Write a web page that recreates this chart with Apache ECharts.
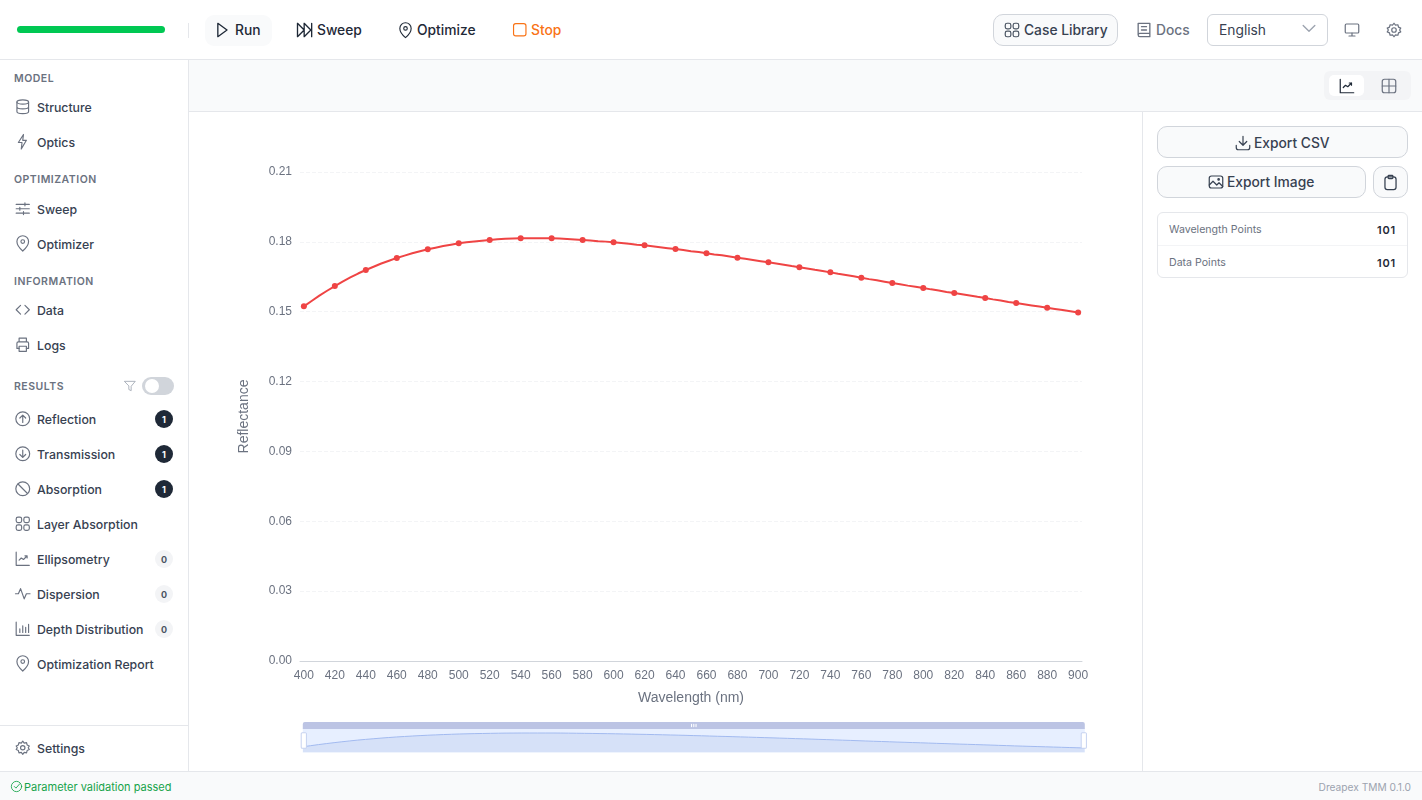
<!DOCTYPE html>
<html>
<head>
<meta charset="utf-8">
<title>Dreapex TMM</title>
<script src="https://cdn.jsdelivr.net/npm/echarts@6/dist/echarts.min.js"></script>
<style>
*{box-sizing:border-box}
html,body{margin:0;padding:0;width:1422px;height:800px;overflow:hidden;background:#fff;font-family:Inter,"Noto Sans",sans-serif;color:#374151}
.a{position:absolute}
.t{position:absolute;white-space:nowrap;line-height:16px;transform:translateY(-50%)}
svg.i{position:absolute;fill:none;stroke:currentColor;stroke-linecap:round;stroke-linejoin:round}
.btn{position:absolute;background:#f9fafb;border:1px solid #d1d5db;border-radius:10px}
.sec{font-size:10.5px;font-weight:600;letter-spacing:.5px;color:#6b7280}
.item{font-size:12.3px;font-weight:500;color:#374151}
.top{font-size:13.8px;font-weight:500;color:#1f2937}
.badge{position:absolute;left:155px;width:18px;height:18px;border-radius:50%;font-size:9px;font-weight:700;display:flex;align-items:center;justify-content:center}
.b1{background:#1f2937;color:#fff}.b0{background:#f3f4f6;color:#4b5563}
#chart{position:absolute;left:189px;top:112px;width:953px;height:659px}
</style>
</head>
<body>
<div class="a" style="left:0;top:59px;width:1422px;height:1px;background:#e5e7eb"></div>
<div class="a" style="left:17px;top:26px;width:148px;height:7px;border-radius:4px;background:#00c853"></div>
<div class="a" style="left:188px;top:23px;width:1px;height:15px;background:#e5e7eb"></div>
<div class="a" style="left:205px;top:15px;width:67px;height:31px;border-radius:9px;background:#f9fafb"></div>
<div class="a" style="left:189px;top:60px;width:1233px;height:52px;background:#f9fafb;border-bottom:1px solid #e5e7eb"></div>
<div class="a" style="left:1324px;top:71px;width:87px;height:29px;border-radius:6px;background:#f3f4f6"></div>
<div class="a" style="left:1329px;top:75px;width:35px;height:21px;border-radius:5px;background:#fff"></div>
<div class="a" style="left:188px;top:60px;width:1px;height:711px;background:#e5e7eb"></div>
<div class="a" style="left:1142px;top:112px;width:1px;height:659px;background:#e5e7eb"></div>
<div class="a" style="left:0;top:725px;width:188px;height:1px;background:#e5e7eb"></div>
<div id="topbar"></div>
<div id="chart"></div>
<div id="side"></div>
<div id="right"></div>
<div class="a" style="left:0;top:771px;width:1422px;height:29px;background:#f9fafb;border-top:1px solid #e5e7eb"></div>
<div id="status"></div>
<script>
// ---------- chart data ----------
var wavelengthLabels = ['400','405','410','415','420','425','430','435','440','445','450','455','460','465','470','475','480','485','490','495','500','505','510','515','520','525','530','535','540','545','550','555','560','565','570','575','580','585','590','595','600','605','610','615','620','625','630','635','640','645','650','655','660','665','670','675','680','685','690','695','700','705','710','715','720','725','730','735','740','745','750','755','760','765','770','775','780','785','790','795','800','805','810','815','820','825','830','835','840','845','850','855','860','865','870','875','880','885','890','895','900'];
var reflectance = [
0.1523,0.1546,0.1569,0.1590,0.1610,0.1629,0.1647,0.1664,0.1679,0.1693,
0.1707,0.1719,0.1731,0.1741,0.1751,0.1760,0.1768,0.1775,0.1782,0.1788,
0.1794,0.1798,0.1802,0.1805,0.1808,0.1811,0.1813,0.1814,0.1815,0.1815,
0.1815,0.1815,0.1815,0.1814,0.1812,0.1810,0.1808,0.1806,0.1803,0.1801,
0.1798,0.1795,0.1792,0.1788,0.1785,0.1781,0.1777,0.1773,0.1769,0.1765,
0.1760,0.1756,0.1751,0.1746,0.1742,0.1737,0.1732,0.1727,0.1722,0.1717,
0.1712,0.1707,0.1702,0.1696,0.1691,0.1686,0.1680,0.1675,0.1669,0.1663,
0.1658,0.1652,0.1646,0.1640,0.1635,0.1629,0.1623,0.1618,0.1612,0.1607,
0.1602,0.1596,0.1591,0.1585,0.1580,0.1575,0.1570,0.1564,0.1559,0.1553,
0.1548,0.1542,0.1537,0.1532,0.1527,0.1522,0.1517,0.1512,0.1507,0.1502,0.1497];
var yTicks = {min:0, max:0.21, interval:0.03};

var chart = echarts.init(document.getElementById('chart'));
chart.setOption({
  animation:false,
  textStyle:{fontFamily:'"Liberation Sans",Arial,sans-serif'},
  grid:{left:111,right:60,top:60,bottom:110},
  xAxis:{type:'category',data:wavelengthLabels,boundaryGap:true,
    name:'Wavelength (nm)',nameLocation:'middle',nameGap:30,
    nameTextStyle:{fontSize:14,color:'#6b7280'},
    axisLine:{lineStyle:{color:'#d1d5db'}},axisTick:{show:false},
    axisLabel:{interval:3,color:'#6b7280',fontSize:12,margin:9},splitLine:{show:false}},
  yAxis:{type:'value',min:yTicks.min,max:yTicks.max,interval:yTicks.interval,
    name:'Reflectance',nameLocation:'middle',nameGap:49,
    nameTextStyle:{fontSize:14,color:'#6b7280'},
    axisLine:{show:false},axisTick:{show:false},
    axisLabel:{color:'#6b7280',fontSize:12,margin:8,lineHeight:15,formatter:function(v){return v.toFixed(2)}},
    splitLine:{lineStyle:{color:'#f3f4f6',type:'dashed'}}},
  dataZoom:[{type:'slider',xAxisIndex:0,start:0,end:100,left:111,right:60,top:610,height:24,
    showDetail:false,brushSelect:true,borderColor:'transparent',
    backgroundColor:'rgba(47,69,84,0)',fillerColor:'rgba(135,175,274,0.2)',
    moveHandleSize:7,moveHandleStyle:{color:'#bcc4e4',opacity:1},
    handleIcon:'path://M1,0H4a1,1,0,0,1,1,1V14a1,1,0,0,1-1,1H1a1,1,0,0,1-1-1V1a1,1,0,0,1,1-1Z',
    handleSize:'65%',handleStyle:{color:'#fff',borderColor:'#c6d2f0'},
    dataBackground:{lineStyle:{color:'#b4c6ee',width:1},areaStyle:{color:'#eaeef7',opacity:1}},
    selectedDataBackground:{lineStyle:{color:'#a9bdec',width:1},areaStyle:{color:'#eaeef7',opacity:1}}}],
  series:[{type:'line',name:'Reflectance',data:reflectance,symbol:'circle',symbolSize:6,showSymbol:true,
    lineStyle:{color:'#ef4444',width:2},itemStyle:{color:'#ef4444'}}]
});

// ---------- page chrome ----------
var ICONS = {
 run:'<path d="M7 4v16l11-8z"/>',
 sweep:'<path d="M3 4v16l8-8zM11 4v16l8-8zM20 4v16"/>',
 pin:'<path d="M12 22s8-7 8-13a8 8 0 0 0-16 0c0 6 8 13 8 13z"/><circle cx="12" cy="9" r="2.5"/>',
 stop:'<rect x="3.5" y="3.5" width="17" height="17" rx="3"/>',
 grid:'<rect x="3" y="3" width="7.5" height="7.5" rx="2.5"/><rect x="13.5" y="3" width="7.5" height="7.5" rx="2.5"/><rect x="3" y="13.5" width="7.5" height="7.5" rx="2.5"/><rect x="13.5" y="13.5" width="7.5" height="7.5" rx="2.5"/>',
 book:'<path d="M5 4h14v16H7a2 2 0 0 1-2-2zM5 18a2 2 0 0 1 2-2h12M9 8h6M9 12h6"/>',
 chev:'<path d="M5 9l7 7 7-7"/>',
 monitor:'<rect x="3" y="4" width="18" height="12" rx="1.5"/><path d="M12 16v4M8 20h8"/>',
 gear:'<circle cx="12" cy="12" r="3"/><path d="M12 3l2 2.6 3.2-.6.8 3.2 3 1.3-1.5 2.5 1.5 2.5-3 1.3-.8 3.2-3.2-.6L12 21l-2-2.6-3.2.6-.8-3.2-3-1.3L4.5 12 3 9.5l3-1.3.8-3.2 3.2.6z"/>',
 db:'<ellipse cx="12" cy="5.5" rx="8" ry="3"/><path d="M4 5.5v13c0 1.7 3.6 3 8 3s8-1.3 8-3v-13M4 12c0 1.7 3.6 3 8 3s8-1.3 8-3"/>',
 bolt:'<path d="M13 2L6 13h5l-1 9 7-12h-5z"/>',
 sliders:'<path d="M3 6h18M3 12h18M3 18h18M15 4v4M8 10v4M13 16v4"/>',
 code:'<path d="M9 6l-6 6 6 6M15 6l6 6-6 6"/>',
 printer:'<path d="M7 8V3h10v5M7 17H4v-7a2 2 0 0 1 2-2h12a2 2 0 0 1 2 2v7h-3"/><rect x="7" y="14" width="10" height="7"/>',
 up:'<circle cx="12" cy="12" r="9.5"/><path d="M12 17V7M8 11l4-4 4 4"/>',
 down:'<circle cx="12" cy="12" r="9.5"/><path d="M12 7v10M8 13l4 4 4-4"/>',
 ban:'<circle cx="12" cy="12" r="9.5"/><path d="M5.5 5.5l13 13"/>',
 chart:'<path d="M3 3v18h18"/><path d="M7 14l3-3 3 2 5-5M15 8h3v3"/>',
 wave:'<path d="M2 12h4l3-7 5 14 3-7h5"/>',
 bars:'<path d="M3 3v18h18M8 17v-5M12 17V8M16 17v-7M20 17V6"/>',
 funnel:'<path d="M3 4h18l-7 8.5V20l-4-2v-5.5z"/>',
 table:'<rect x="3" y="3" width="18" height="18" rx="3"/><path d="M3 12h18M12 3v18"/>',
 dl:'<path d="M12 3v12M7 10l5 5 5-5M3 15v3a3 3 0 0 0 3 3h12a3 3 0 0 0 3-3v-3"/>',
 img:'<rect x="3" y="4" width="18" height="16" rx="3"/><path d="M3 16l5-5 5 5 3-3 5 5"/><circle cx="15.5" cy="8.5" r="1"/>',
 clip:'<rect x="5" y="5" width="14" height="16" rx="3"/><rect x="9" y="3" width="6" height="4" rx="1"/>',
 check:'<circle cx="12" cy="12" r="9.5"/><path d="M8 12l3 3 7-8"/>'
};
function icon(name,x,y,s,color,sw){
  return '<svg class="i" viewBox="0 0 24 24" style="left:'+x+'px;top:'+(y-s/2)+'px;width:'+s+'px;height:'+s+'px;color:'+color+';stroke-width:'+(sw||1.6)+'">'+ICONS[name]+'</svg>';
}
function text(s,x,y,cls,style){return '<div class="t '+cls+'" style="left:'+x+'px;top:'+y+'px;'+(style||'')+'">'+s+'</div>';}

var h='';
h+=icon('run',212,30,20,'#1f2937')+text('Run',235,30,'top');
h+=icon('sweep',295,30,20,'#1f2937')+text('Sweep',317,30,'top');
h+=icon('pin',396.5,30,17,'#1f2937')+text('Optimize',417,30,'top');
h+=icon('stop',511,30,17.5,'#f97316')+text('Stop',531,30,'top','color:#f97316');
h+='<div class="btn" style="left:993px;top:14px;width:125px;height:32px"></div>'+icon('grid',1002.5,30,18,'#4b5563')+text('Case Library',1024,30,'top','color:#374151');
h+=icon('book',1133.5,30,20,'#6b7280')+text('Docs',1156,30,'top','color:#6b7280');
h+='<div class="btn" style="left:1207px;top:14px;width:121px;height:32px;background:#fff;border-radius:6px"></div>'+text('English',1219,30,'top','color:#374151;font-weight:400')+icon('chev',1299,28,20,'#9ca3af');
h+=icon('monitor',1343,30,18,'#6b7280')+icon('gear',1385,30,18,'#6b7280');
h+=icon('chart',1337.5,86,18,'#1f2937')+icon('table',1380,86,18,'#6b7280');
document.getElementById('topbar').innerHTML=h;

var sections=[['MODEL',79],['OPTIMIZATION',180],['INFORMATION',282],['RESULTS',387]];
var navItems=[['db','Structure',107],['bolt','Optics',142],['sliders','Sweep',209],['pin','Optimizer',244],['code','Data',310],['printer','Logs',345],['up','Reflection',419,1],['down','Transmission',454,1],['ban','Absorption',489,1],['grid','Layer Absorption',524],['chart','Ellipsometry',559,0],['wave','Dispersion',594,0],['bars','Depth Distribution',629,0],['pin','Optimization Report',664],['gear','Settings',748]];
h='';
sections.forEach(function(s){h+=text(s[0],14,s[1],'sec');});
navItems.forEach(function(n){
  h+=icon(n[0],14,n[2],17.5,'#6b7280')+text(n[1],37,n[2]+1,'item');
  if(n[3]!==undefined)h+='<div class="badge b'+n[3]+'" style="top:'+(n[2]-9)+'px">'+n[3]+'</div>';
});
h+=icon('funnel',123,386,14,'#9ca3af',1.4);
h+='<div class="a" style="left:142px;top:377px;width:32px;height:18px;border-radius:9px;background:#d1d5db"></div><div class="a" style="left:145px;top:379px;width:14px;height:14px;border-radius:50%;background:#fff"></div>';
document.getElementById('side').innerHTML=h;

var stats=[['Wavelength Points','101',230],['Data Points','101',263]];
h='<div class="btn" style="left:1157px;top:126px;width:251px;height:32px"></div>'+icon('dl',1233.5,143,18,'#374151')+text('Export CSV',1254,143,'top','color:#374151');
h+='<div class="btn" style="left:1157px;top:166px;width:209px;height:32px"></div>'+icon('img',1206.5,182,18,'#374151')+text('Export Image',1227,182,'top','color:#374151');
h+='<div class="btn" style="left:1373px;top:166px;width:35px;height:32px"></div>'+icon('clip',1381,182,19,'#374151');
h+='<div class="a" style="left:1157px;top:212px;width:251px;height:66px;border:1px solid #e5e7eb;border-radius:6px"></div><div class="a" style="left:1158px;top:245px;width:249px;height:1px;background:#f3f4f6"></div>';
stats.forEach(function(s){h+=text(s[0],1169,s[2],'','font-size:10.6px;color:#6b7280')+'<div class="t" style="right:26px;top:'+s[2]+'px;font-size:11px;font-weight:600;letter-spacing:.8px;color:#1f2937">'+s[1]+'</div>';});
document.getElementById('right').innerHTML=h;

document.getElementById('status').innerHTML=icon('check',9.5,786,13,'#16a34a',1.6)+text('Parameter validation passed',24,787,'','font-size:11px;color:#16a34a')+'<div class="t" style="right:11px;top:787px;font-size:10.2px;color:#9ca3af">Dreapex TMM 0.1.0</div>';
</script>
</body>
</html>
